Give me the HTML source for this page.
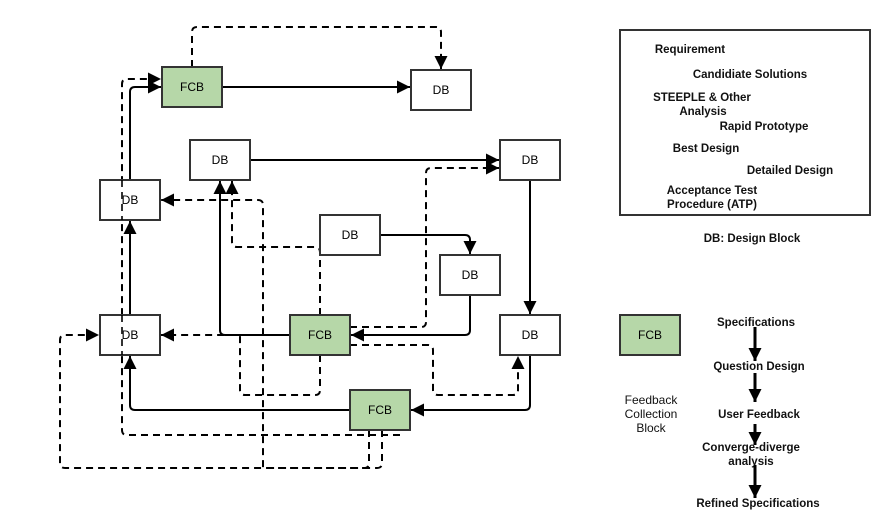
<!DOCTYPE html>
<html><head><meta charset="utf-8"><style>
html,body{margin:0;padding:0;background:#fff;}
svg{display:block;}
text{font-family:"Liberation Sans",sans-serif;}
</style></head><body>
<svg width="890" height="530" viewBox="0 0 890 530" xmlns="http://www.w3.org/2000/svg">
<defs>
<marker id="a" viewBox="0 0 10 10" refX="10" refY="5" markerWidth="13" markerHeight="13" markerUnits="userSpaceOnUse" orient="auto"><path d="M0,0L10,5L0,10z" fill="#000"/></marker>
<marker id="b" viewBox="0 0 10 10" refX="10" refY="5" markerWidth="13" markerHeight="13" markerUnits="userSpaceOnUse" orient="auto"><path d="M0,0L10,5L0,10z" fill="#000"/></marker>
</defs>
<g fill="none" stroke="#000" stroke-width="2" stroke-linejoin="round">
<path d="M130,180V92Q130,87 135,87H161" marker-end="url(#a)"/>
<path d="M222,87H410" marker-end="url(#a)"/>
<path d="M250,160H499" marker-end="url(#a)"/>
<path d="M530,180V314" marker-end="url(#a)"/>
<path d="M380,235H465Q470,235 470,240V254" marker-end="url(#a)"/>
<path d="M470,295V330Q470,335 465,335H351" marker-end="url(#a)"/>
<path d="M290,335H225Q220,335 220,330V181" marker-end="url(#a)"/>
<path d="M130,315V221" marker-end="url(#a)"/>
<path d="M530,355V405Q530,410 525,410H411" marker-end="url(#a)"/>
<path d="M350,410H135Q130,410 130,405V356" marker-end="url(#a)"/>
</g>
<g fill="none" stroke="#000" stroke-width="2" stroke-dasharray="7,5" stroke-linejoin="round">
<path d="M192,67V32Q192,27 197,27H436Q441,27 441,32V69" marker-end="url(#a)"/>
<path d="M400,435H127Q122,435 122,430V84Q122,79 127,79H161" marker-end="url(#a)"/>
<path d="M369,430V463Q369,468 364,468H65Q60,468 60,463V340Q60,335 65,335H99" marker-end="url(#a)"/>
<path d="M382,430V463Q382,468 377,468H263V205Q263,200 258,200H161" marker-end="url(#a)"/>
<path d="M320,315V252Q320,247 315,247H237Q232,247 232,242V181" marker-end="url(#a)"/>
<path d="M320,355V390Q320,395 315,395H245Q240,395 240,390V335H161" marker-end="url(#a)"/>
<path d="M350,327H421Q426,327 426,322V173Q426,168 431,168H499" marker-end="url(#a)"/>
<path d="M350,345H428Q433,345 433,350V390Q433,395 438,395H513Q518,395 518,390V356" marker-end="url(#a)"/>
</g>
<g stroke="#333" stroke-width="2">
<rect x="162" y="67" width="60" height="40" fill="#b6d7a8"/>
<rect x="411" y="70" width="60" height="40" fill="#fff"/>
<rect x="190" y="140" width="60" height="40" fill="#fff"/>
<rect x="500" y="140" width="60" height="40" fill="#fff"/>
<rect x="100" y="180" width="60" height="40" fill="#fff"/>
<rect x="320" y="215" width="60" height="40" fill="#fff"/>
<rect x="440" y="255" width="60" height="40" fill="#fff"/>
<rect x="100" y="315" width="60" height="40" fill="#fff"/>
<rect x="290" y="315" width="60" height="40" fill="#b6d7a8"/>
<rect x="500" y="315" width="60" height="40" fill="#fff"/>
<rect x="350" y="390" width="60" height="40" fill="#b6d7a8"/>
<rect x="620" y="315" width="60" height="40" fill="#b6d7a8"/>
<rect x="620" y="30" width="250" height="185" fill="none"/>
</g>
<g fill="none" stroke="#000" stroke-width="2" stroke-dasharray="7,5" opacity="0.8">
<path d="M122,180V220M122,315V355"/>
</g>
<g font-size="12" text-anchor="middle" fill="#000">
<text x="192" y="91">FCB</text>
<text x="441" y="94">DB</text>
<text x="220" y="164">DB</text>
<text x="530" y="164">DB</text>
<text x="130" y="204">DB</text>
<text x="350" y="239">DB</text>
<text x="470" y="279">DB</text>
<text x="130" y="339">DB</text>
<text x="320" y="339">FCB</text>
<text x="530" y="339">DB</text>
<text x="380" y="414">FCB</text>
<text x="650" y="339">FCB</text>
</g>
<g font-size="11.5" font-weight="bold" fill="#111" text-anchor="middle">
<text x="690" y="53">Requirement</text>
<text x="750" y="78">Candidiate Solutions</text>
<text x="702" y="101">STEEPLE &amp; Other</text>
<text x="703" y="115">Analysis</text>
<text x="764" y="130">Rapid Prototype</text>
<text x="706" y="152">Best Design</text>
<text x="790" y="174">Detailed Design</text>
<text x="712" y="194">Acceptance Test</text>
<text x="712" y="208">Procedure (ATP)</text>
<text x="752" y="242">DB: Design Block</text>
<text x="756" y="326">Specifications</text>
<text x="759" y="370">Question Design</text>
<text x="759" y="418">User Feedback</text>
<text x="751" y="451">Converge-diverge</text>
<text x="751" y="465">analysis</text>
<text x="758" y="507">Refined Specifications</text>
</g>
<g font-size="12" fill="#111" text-anchor="middle">
<text x="651" y="404">Feedback</text>
<text x="651" y="418">Collection</text>
<text x="651" y="432">Block</text>
</g>
<g fill="none" stroke="#000" stroke-width="3">
<path d="M755,327V361" marker-end="url(#b)"/>
<path d="M755,373V402" marker-end="url(#b)"/>
<path d="M755,424V445" marker-end="url(#b)"/>
<path d="M755,465V498" marker-end="url(#b)"/>
</g>
</svg>
</body></html>
